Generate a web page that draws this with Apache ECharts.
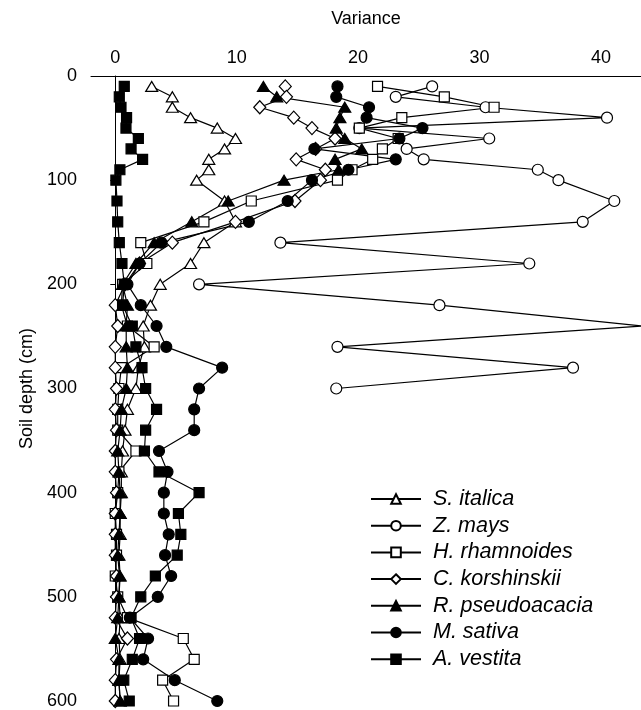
<!DOCTYPE html>
<html style="height: 100%">
<head>
    <meta charset="utf-8">
    <script type="text/javascript" src="https://cdn.jsdelivr.net/npm/echarts@6/dist/echarts.min.js"></script>
    <title>Variance by soil depth</title>
</head>
<body style="height: 100%; margin: 0; background: #fff">
<div id="container" style="width: 641px; height: 710px"></div>
<script type="text/javascript">
    // depths (cm): 10 cm steps to 100, then 20 cm steps to 600
    let depths = [10, 20, 30, 40, 50, 60, 70, 80, 90, 100,
        120, 140, 160, 180, 200, 220, 240, 260, 280, 300,
        320, 340, 360, 380, 400, 420, 440, 460, 480, 500,
        520, 540, 560, 580, 600];
    // Z. mays was only sampled to 300 cm
    let depthsMays = depths.slice(0, 20);

    let italica = [3.0, 4.7, 4.7, 6.2, 8.4, 9.9, 9.0, 7.7, 7.7, 6.7,
        9.0, 9.9, 7.3, 6.2, 3.7, 2.9, 2.3, 2.4, 1.9, 1.7,
        1.0, 0.8, 0.6, 0.5, 0.5, 0.4, 0.4, 0.3, 0.4, 0.3,
        0.4, 0.3, 0.4, 0.3, 0.4];
    let mays = [26.1, 23.1, 30.5, 40.5, 20.1, 30.8, 24.0, 25.4, 34.8, 36.5,
        41.1, 38.5, 13.6, 34.1, 6.9, 26.7, 43.4, 18.3, 37.7, 18.2];
    let rhamnoides = [21.6, 27.1, 31.2, 23.6, 20.1, 23.3, 22.0, 21.2, 19.5, 18.3,
        11.2, 7.3, 2.1, 2.6, 0.6, 0.5, 1.0, 3.2, 0.5, 0.3,
        0.2, 0.2, 1.7, 0.3, 0.2, 0.0, 0.1, 0.1, 0.0, 0.2,
        1.0, 5.6, 6.5, 3.9, 4.8];
    let korshinskii = [14.0, 14.1, 11.9, 14.7, 16.2, 18.1, 16.5, 14.9, 17.3, 16.9,
        14.8, 9.9, 4.7, 2.0, 0.8, 0.0, 0.2, 0.0, 0.0, 0.1,
        0.0, 0.1, 0.0, 0.0, 0.1, 0.0, 0.0, 0.0, 0.1, 0.1,
        0.0, 1.0, 0.1, 0.0, 0.0];
    let pseudoacacia = [12.2, 13.3, 18.9, 18.5, 18.2, 18.9, 20.3, 18.1, 18.4, 13.9,
        9.3, 6.3, 3.2, 1.7, 0.6, 1.0, 0.9, 0.9, 1.0, 0.9,
        0.5, 0.4, 0.2, 0.3, 0.4, 0.4, 0.3, 0.2, 0.35, 0.3,
        0.2, 0.0, 0.3, 0.3, 0.4];
    let sativa = [18.3, 18.2, 20.9, 20.7, 25.3, 23.4, 16.4, 23.1, 19.2, 16.2,
        14.2, 11.0, 3.8, 2.0, 1.0, 2.1, 3.4, 4.2, 8.8, 6.9,
        6.5, 6.5, 3.6, 4.3, 4.0, 4.0, 4.4, 4.1, 4.6, 3.5,
        1.2, 2.7, 2.3, 4.9, 8.4];
    let vestita = [0.74, 0.33, 0.47, 0.93, 0.88, 1.9, 1.3, 2.25, 0.38, 0.05,
        0.14, 0.2, 0.33, 0.55, 0.74, 0.6, 1.4, 1.7, 2.2, 2.5,
        3.4, 2.5, 2.4, 3.6, 6.9, 5.2, 5.4, 5.1, 3.3, 2.1,
        1.3, 2.0, 1.4, 0.7, 1.15];

    let font = 'Liberation Sans, Arial, sans-serif';

    function pairs(vals, ds) {
        return vals.map(function (v, i) { return [v, ds[i]]; });
    }

    function makeSeries(name, vals, ds, symbol, size, filled) {
        return {
            name: name,
            type: 'line',
            data: pairs(vals, ds),
            symbol: symbol,
            symbolSize: size,
            showAllSymbol: true,
            lineStyle: {color: '#000', width: 1.2},
            itemStyle: {
                color: filled ? '#000' : '#fff',
                borderColor: '#000',
                borderWidth: 1.2
            },
            emphasis: {disabled: true}
        };
    }

    let dom = document.getElementById('container');
    let myChart = echarts.init(dom, null, {renderer: 'canvas'});
    let option = {
        animation: false,
        backgroundColor: '#fff',
        grid: {left: 91, top: 76, right: 0, bottom: 9},
        legend: {
            orient: 'vertical',
            left: 370,
            top: 488,
            padding: 0,
            itemWidth: 50,
            itemHeight: 12,
            itemGap: 4.7,
            textStyle: {
                fontFamily: font,
                fontStyle: 'italic',
                fontSize: 21.5,
                lineHeight: 22,
                color: '#000',
                padding: [0, 0, 0, 7]
            }
        },
        xAxis: {
            type: 'value',
            position: 'top',
            min: -2,
            max: 43.3,
            name: 'Variance',
            nameLocation: 'middle',
            nameGap: 48,
            nameTextStyle: {fontFamily: font, fontSize: 18, color: '#000'},
            axisLine: {lineStyle: {color: '#000', width: 1}},
            axisTick: {show: false},
            splitLine: {show: false},
            axisLabel: {
                fontFamily: font,
                fontSize: 18,
                color: '#000',
                margin: 9,
                showMinLabel: false,
                showMaxLabel: false,
                formatter: function (v) { return v % 10 === 0 ? String(v) : ''; }
            }
        },
        yAxis: {
            type: 'value',
            inverse: true,
            min: 0,
            max: 600,
            interval: 100,
            name: 'Soil depth (cm)',
            nameLocation: 'middle',
            nameGap: 54,
            nameTextStyle: {fontFamily: font, fontSize: 18, color: '#000'},
            axisLine: {show: true, lineStyle: {color: '#000', width: 1}},
            axisTick: {show: true, length: 5, lineStyle: {color: '#000'}},
            splitLine: {show: false},
            axisLabel: {fontFamily: font, fontSize: 18, color: '#000', margin: 14}
        },
        series: [
            makeSeries('S. italica', italica, depths, 'triangle', [12, 10], false),
            makeSeries('Z. mays', mays, depthsMays, 'circle', 11, false),
            makeSeries('H. rhamnoides', rhamnoides, depths, 'rect', 10, false),
            makeSeries('C. korshinskii', korshinskii, depths, 'diamond', [12, 13], false),
            makeSeries('R. pseudoacacia', pseudoacacia, depths, 'triangle', [12, 10], true),
            makeSeries('M. sativa', sativa, depths, 'circle', 11, true),
            makeSeries('A. vestita', vestita, depths, 'rect', 10, true)
        ]
    };
    myChart.setOption(option);
</script>
</body>
</html>
